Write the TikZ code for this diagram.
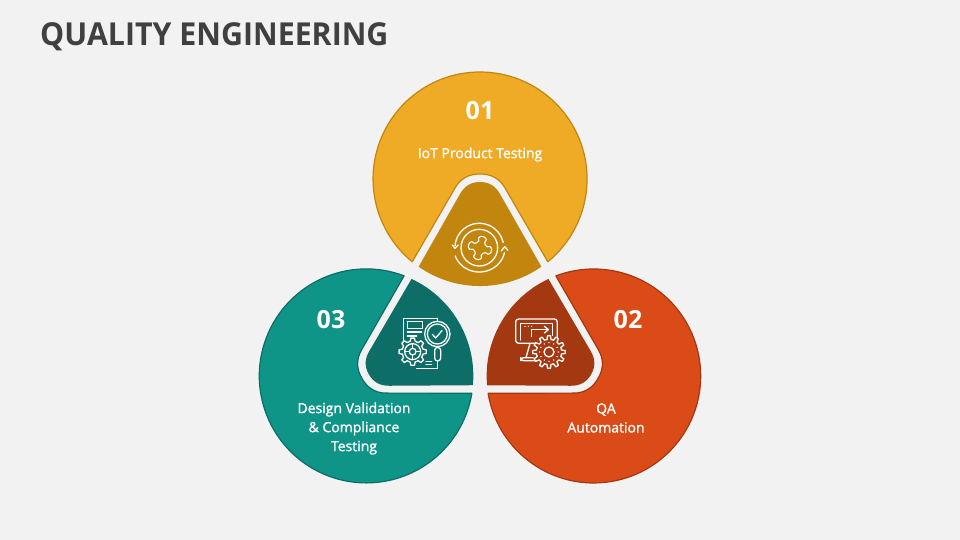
\documentclass[tikz,border=0pt]{standalone}
\usepackage{fontspec}
\setmainfont{Open Sans}
\newfontfamily\titlefont[FakeStretch=0.96]{Open Sans}
\newfontfamily\labfont[FakeBold=1.4]{Open Sans}
\usetikzlibrary{calc}
\definecolor{bgc}{HTML}{F2F2F2}
\definecolor{titlec}{HTML}{404040}
\definecolor{amberA}{HTML}{F0AB26}
\definecolor{amberB}{HTML}{C2850D}
\definecolor{tealA}{HTML}{0F9488}
\definecolor{tealB}{HTML}{0C6E66}
\definecolor{redA}{HTML}{DA4B17}
\definecolor{redB}{HTML}{A43811}
\tikzset{
  icon/.style={draw=white,line width=1.3pt,line cap=round,line join=round},
  lab/.style={text=white,font=\fontsize{14}{19}\labfont\selectfont,align=center,inner sep=0pt},
  num/.style={text=white,font=\fontsize{25}{28}\selectfont\bfseries,inner sep=0pt}
}
\newcommand{\petal}[4]{%
  \begin{scope}[rotate around={#1:(480,229.7)}]
    \draw[fill=#2,draw=#3,line width=1.2pt,line join=round]
      (547.8,278.2) arc[start angle=-50.7,end angle=230.7,radius=107]
      -- (455,352) .. controls (461,362.5) and (470,366) .. (480,366)
      .. controls (490,366) and (499,362.5) .. (505,352) -- cycle;
    \fill[#4]
      (541.4,273.3) arc[start angle=-55,end angle=-125,radius=107]
      -- (460,346) .. controls (464.5,354) and (471,358) .. (480,358)
      .. controls (489,358) and (495.5,354) .. (500,346) -- cycle;
  \end{scope}}
% gear: centre, inner radius, outer radius, teeth, fill
\newcommand{\gearicon}[5]{%
  \pgfmathsetmacro{\stp}{360/#4}
  \fill[#5] (#1) circle[radius=#3];
  \foreach \k in {1,...,#4}{
    \pgfmathsetmacro{\a}{\k*\stp}
    \draw[icon] ($(#1)+(\a-0.30*\stp:#2)$) -- ($(#1)+(\a-0.17*\stp:#3)$)
      -- ($(#1)+(\a+0.17*\stp:#3)$) -- ($(#1)+(\a+0.30*\stp:#2)$)
      -- ($(#1)+(\a+0.70*\stp:#2)$);
  }}
\begin{document}
\begin{tikzpicture}[x=1pt,y=1pt]
\useasboundingbox (0,0) rectangle (960,540);
\fill[bgc] (0,0) rectangle (960,540);
\node[anchor=base west,inner sep=0pt,text=titlec,font=\fontsize{31.6}{36}\titlefont\bfseries\selectfont] (title) at (40,494.5) {QUALITY ENGINEERING};

\petal{0}{amberA}{amberB}{amberB}
\petal{120}{tealA}{tealB}{tealB}
\petal{-120}{redA}{redB}{redB}

% icon 1 (zoom coordinates of crop at 400,165)
\begin{scope}[shift={(400,375)},x=0.3333pt,y=-0.3333pt]
  \draw[icon] (238,248) circle[radius=55];
  \draw[icon] plot[domain=-175:-12,samples=40] ({238+73*cos(\x)},{248+73*sin(\x)});
  \draw[icon] (157,240) -- (165,250) -- (175,240);
  \draw[icon] plot[domain=12:160,samples=40] ({238+77*cos(\x)},{248+73*sin(\x)});
  \draw[icon] (304,258) -- (314,245) -- (324,256);
  \begin{scope}[shift={(240,249)},rotate=-15]
    \draw[icon,line width=1.1pt] plot[smooth cycle,tension=0.6] coordinates {
      (20,-9)(28,-12)(35,-5)(35,5)(28,12)(20,9)(13,13)
      (9,20)(12,28)(5,35)(-5,35)(-12,28)(-9,20)(-13,13)
      (-20,9)(-28,12)(-35,5)(-35,-5)(-28,-12)(-20,-9)(-13,-13)
      (-9,-20)(-12,-28)(-5,-35)(5,-35)(12,-28)(9,-20)(13,-13)};
  \end{scope}
\end{scope}

% icon 2 (crop at 350,265)
\begin{scope}[shift={(350,275)},x=0.3333pt,y=-0.3333pt]
  \draw[icon] (262,160) -- (160,160) -- (160,228);
  \draw[icon] (262,160) -- (262,170);
  \draw[icon] (172,170) rectangle (218,190);
  \draw[icon] (172,201) -- (215,201);
  \draw[icon] (172,213) -- (200,213) ;
  \draw[icon] (200,310) -- (262,310) -- (262,288);
  \draw[icon] (228,290) -- (245,290) (228,298) -- (245,298);
  \filldraw[icon,fill=tealB] (262,207) circle[radius=38];
  \draw[icon] (262,207) circle[radius=30];
  \draw[icon] (247,208) -- (257,219) -- (276,197);
  \draw[icon,fill=tealB,rounded corners=3pt] (254,247) rectangle (272,288);
  \gearicon{188,260}{32}{41}{8}{tealB}
  \draw[icon] (188,260) circle[radius=24];
  \draw[icon] (188,260) circle[radius=10];
  \draw[icon] (188,236) -- (188,250) (188,270) -- (188,284) (164,260) -- (178,260) (198,260) -- (212,260);
\end{scope}

% icon 3 (crop at 480,265)
\begin{scope}[shift={(480,275)},x=0.3333pt,y=-0.3333pt]
  \draw[icon,rounded corners=3pt] (107,235) rectangle (232,162);
  \draw[icon] (122,225) -- (122,175) -- (218,175) -- (218,215);
  \foreach \px in {135,145,155}{\fill[white] (\px,184) circle[radius=2.2];}
  \draw[icon] (155,215) -- (155,194) -- (203,194);
  \draw[icon] (193,184) -- (205,194) -- (193,204);
  \draw[icon] (150,235) -- (138,278) (170,235) -- (165,255);
  \draw[icon,rounded corners=3pt] (122,278) rectangle (172,287);
  \gearicon{207,261}{38}{49}{12}{redB}
  \draw[icon] (207,261) circle[radius=15];
  \foreach \k in {0,30,...,330}{\fill[white] ($(207,261)+(\k:28)$) circle[radius=2.4];}
\end{scope}

\node[num] (n1) at (480,429) {01};
\node[lab] (t1) at (480,385.5) {IoT Product Testing};
\node[num] (n2) at (628,220.5) {02};
\node[lab] (t2) at (606,122) {QA\\Automation};
\node[num] (n3) at (331,220.5) {03};
\node[lab] (t3) at (354,111.5) {Design Validation\\\& Compliance\\Testing};
\end{tikzpicture}
\end{document}
